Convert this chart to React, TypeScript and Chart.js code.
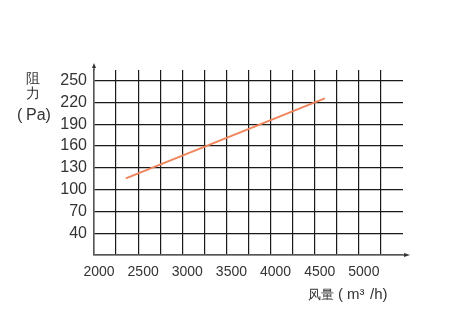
import React, { useEffect, useRef } from "react";
import { Chart, registerables } from "chart.js";

Chart.register(...registerables);

const airflow = [2360, 4614];
const resistance = [115.5, 225.6];
const yTicks = [10, 40, 70, 100, 130, 160, 190, 220, 250];
const xTicks = [2000, 2250, 2500, 2750, 3000, 3250, 3500, 3750, 4000, 4250, 4500, 4750, 5000, 5250];
const yTitle = ["阻", "力", "( Pa)"];
const xTitleParts = ["风量", "(", "m³", "/h)"];

const FONT = "'Liberation Sans', Arial, sans-serif";

const decorPlugin = {
  id: "decor",
  afterDraw(chart: any) {
    const { ctx, chartArea } = chart;
    ctx.save();
    ctx.fillStyle = "#333";
    ctx.textAlign = "center";
    ctx.textBaseline = "middle";
    ctx.font = `14px ${FONT}`;
    ctx.fillText(yTitle[0], 33, 79);
    ctx.fillText(yTitle[1], 33, 94);
    ctx.font = `16px ${FONT}`;
    ctx.textAlign = "left";
    ctx.fillText("(", 17, 116);
    ctx.fillText("Pa)", 26, 116);
    // x title
    ctx.font = `13px ${FONT}`;
    ctx.fillText(xTitleParts[0], 308, 295);
    ctx.font = `15px ${FONT}`;
    ctx.fillText(xTitleParts[1], 338, 295);
    ctx.fillText(xTitleParts[2], 347, 295);
    ctx.fillText(xTitleParts[3], 370, 295);
    // arrows
    ctx.fillStyle = "#333";
    ctx.beginPath();
    ctx.moveTo(chartArea.left, 63);
    ctx.lineTo(chartArea.left - 2, 68);
    ctx.lineTo(chartArea.left + 2, 68);
    ctx.closePath();
    ctx.fill();
    ctx.strokeStyle = "#555";
    ctx.lineWidth = 1.5;
    ctx.beginPath();
    ctx.moveTo(chartArea.left, 68);
    ctx.lineTo(chartArea.left, chartArea.top);
    ctx.stroke();
    ctx.beginPath();
    ctx.moveTo(chartArea.right, chartArea.bottom);
    ctx.lineTo(405, chartArea.bottom);
    ctx.stroke();
    ctx.beginPath();
    ctx.moveTo(410, chartArea.bottom);
    ctx.lineTo(404, chartArea.bottom - 2);
    ctx.lineTo(404, chartArea.bottom + 2);
    ctx.closePath();
    ctx.fill();
    ctx.restore();
  },
};

export default function App() {
  const ref = useRef<HTMLCanvasElement>(null);
  useEffect(() => {
    const canvas = ref.current!;
    const chart = new Chart(canvas, {
      type: "line",
      data: {
        datasets: [
          {
            data: airflow.map((x, i) => ({ x, y: resistance[i] })),
            borderColor: "#f0845a",
            borderWidth: 2,
            pointRadius: 0,
            tension: 0,
          },
        ],
      },
      options: {
        animation: false,
        responsive: false,
        maintainAspectRatio: false,
        layout: { padding: { top: 70, right: 52, left: 0, bottom: 0 } },
        plugins: { legend: { display: false }, tooltip: { enabled: false } },
        scales: {
          x: {
            type: "linear",
            min: 2000,
            max: 5500,
            afterBuildTicks: (s: any) => {
              s.ticks = xTicks.map((v) => ({ value: v }));
            },
            afterFit: (s: any) => {
              s.height = 65;
            },
            ticks: {
              autoSkip: false,
              maxRotation: 0,
              padding: 9,
              labelOffset: 5,
              color: "#333",
              font: { family: FONT, size: 14 },
              callback: (v: any) => (Number(v) % 500 === 0 ? String(v) : ""),
            },
            grid: { color: "#1a1a1a", lineWidth: 1.2, drawTicks: false },
            border: { color: "#555", width: 1.5 },
          },
          y: {
            type: "linear",
            min: 10,
            max: 264.6,
            afterBuildTicks: (s: any) => {
              s.ticks = yTicks.map((v) => ({ value: v }));
            },
            afterFit: (s: any) => {
              s.width = 94;
            },
            ticks: {
              padding: 7,
              color: "#333",
              font: { family: FONT, size: 16 },
              callback: (v: any) => (Number(v) === 10 ? "" : String(v)),
            },
            grid: { color: "#1a1a1a", lineWidth: 1.2, drawTicks: false },
            border: { color: "#555", width: 1.5 },
          },
        },
      },
      plugins: [decorPlugin],
    });
    return () => chart.destroy();
  }, []);
  return (
    <div style={{ position: "fixed", left: 0, top: 0, width: 455, height: 320, background: "#fff" }}>
      <canvas ref={ref} width={455} height={320} style={{ width: 455, height: 320 }} />
    </div>
  );
}
